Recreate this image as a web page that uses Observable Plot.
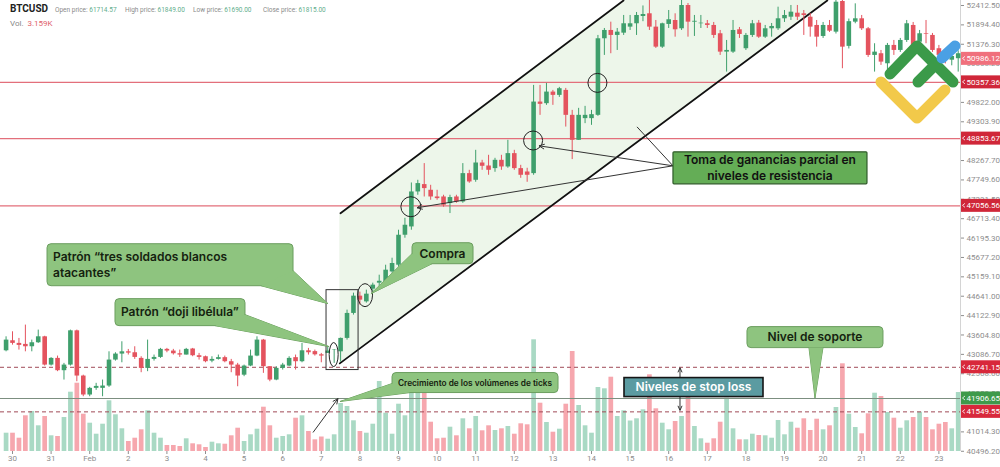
<!DOCTYPE html>
<html><head><meta charset="utf-8">
<script src="https://cdn.jsdelivr.net/npm/d3@7"></script>
<script src="https://cdn.jsdelivr.net/npm/@observablehq/plot@0.6"></script>
<style>
body{margin:0;background:#fff;font-family:Roboto,"Noto Sans",sans-serif;}
#wrap{position:relative;width:1000px;height:467px;overflow:hidden;background:#fff;}
#wrap svg{position:absolute;left:0;top:0;}
.hd{position:absolute;white-space:nowrap;font-family:Roboto,sans-serif;}
.sm{font-size:6.5px;color:#8a8a8a;top:6px;}
.sm b{font-weight:400;color:#5fae8c;}
</style></head><body>
<div id="wrap">
</div>
<script>
// ---------- data ----------
const firstCandle = "2024-01-29T20:00Z";   // 4-hour candles
const opens = [
43182,43450,43380,43353,43290,43397,43556,42800,42979,42650,42800,
43716,42507,42000,42178,42178,42240,42934,43094,43155,43130,
42979,42712,42952,43005,43220,43175,43103,43068,43230,43050,
43023,42906,42952,42999,42890,42800,42530,42774,43041,43468,
42757,42400,42712,42774,42999,42890,43182,43160,43075,43112,
43190,43155,43513,44181,44643,44490,44830,44990,45010,45290,
45470,46271,46493,47428,47625,47473,47294,47294,47118,47294,
47160,47918,47740,48202,48122,48052,48274,48096,48453,48052,
47962,47918,49831,49788,50098,50010,50143,49476,48808,49388,
49388,49476,51523,51745,51612,51673,51834,51924,52119,52191,
51834,51299,51906,52012,51790,52412,51967,51924,51924,51879,
51657,51166,51166,51763,51257,51612,51940,51566,51790,51790,
52057,52100,52207,52190,52100,51879,51585,51879,51700,52520,
51320,51967,52057,51790,51078,51123,50855,51345,51211,51478,
51879,51432,51657,51612,51257,51100,50950,50990];
const highs = [
43556,43690,43513,43869,43468,43735,43570,42999,43041,42846,43735,
43735,42530,42205,42312,42400,43155,43130,43423,43218,43290,
43023,43468,43068,43246,43246,43220,43201,43246,43246,43112,
43041,43023,43068,43041,42952,42846,42800,43201,43556,43486,
42757,42757,42846,43023,43068,43380,43246,43201,43112,43290,
43215,43522,44269,44723,44750,44803,44990,45203,45470,45657,
46405,46725,47668,47740,48186,47606,47473,47340,47340,47340,
48186,48007,48541,48274,48408,48327,48408,48808,48541,48140,
48061,50277,50277,50330,50143,50223,50196,49609,49663,49716,
49609,51612,51798,51967,51798,52146,52146,52226,52400,52546,
52012,51940,52279,52190,52546,52466,52146,52146,52012,51959,
51745,51478,52012,51825,51665,52012,52012,51879,51932,52367,
52279,52413,52413,52279,52199,52012,51959,52012,52546,52546,
52050,52457,52146,51825,51390,51211,51398,51478,51532,52012,
51959,51745,52012,51665,51345,51200,51150,51200];
const lows = [
43155,43334,43201,43155,43155,43380,42774,42774,42624,42400,42774,
42355,41954,41954,42125,41954,42205,42906,42862,43068,42952,
42596,42624,42906,42979,43130,43068,43005,43068,43023,42934,
42862,42862,42934,42862,42596,42221,42490,42757,43023,42579,
42355,42382,42667,42757,42667,42862,43068,43041,42862,43112,
42846,42880,43468,44136,44403,44456,44750,44803,44990,45257,
45417,46191,46405,47340,47294,47206,47206,47020,46851,47126,
47126,47660,47687,48007,47874,47954,48007,48061,48007,47793,
47687,47874,49476,49743,49743,49956,49163,48293,48808,49254,
49209,49449,51078,51123,51211,51612,51745,51612,51980,51745,
51265,51265,51798,51566,51745,51566,51585,51798,51798,51532,
51078,50632,51131,51532,51211,51558,51532,51532,51566,51745,
51959,52012,52012,51612,51566,51299,51532,51692,51650,50722,
51250,51924,51745,51024,50632,50811,50677,51078,51158,51425,
51078,51345,51390,51158,50997,50850,50800,50632];
const closes = [
43468,43380,43326,43290,43397,43556,42800,42979,42650,42800,43716,
42507,42000,42178,42230,42240,42934,43094,43155,43120,43005,
42712,42952,43005,43220,43175,43103,43068,43220,43050,43005,
42890,42952,42999,42890,42800,42507,42774,43041,43468,42757,
42400,42712,42800,42979,42890,43182,43130,43075,43041,43175,
43200,43513,44181,44643,44536,44696,44937,45040,45337,45516,
46271,46538,47428,47652,47518,47294,47250,47072,47278,47160,
47918,47695,48202,48114,48007,48274,48096,48453,48052,47874,
47874,49831,49770,50098,50010,50188,49476,48808,49476,49476,
49494,51523,51745,51612,51700,51924,51924,52146,52172,51834,
51299,51924,52031,51763,52412,51967,51990,51940,51879,51612,
51166,51211,51745,51638,51612,51924,51566,51790,51852,52057,
52146,52234,52100,52146,51834,51566,51879,51726,52500,51299,
51980,52057,51790,51078,51166,50899,51345,51211,51478,51924,
51123,51657,51640,51211,51078,50950,51050,51123];
const volumes = [
915,915,665,1785,2000,1285,1750,785,750,1700,2965,
3415,1865,1415,865,1365,2535,1835,1135,500,665,
1085,2035,915,665,300,300,250,635,385,335,
200,465,385,365,785,1165,500,835,1115,2215,
1285,665,750,835,1665,1785,1000,585,725,615,
835,2400,2250,1535,1000,915,1365,3500,1915,865,
2365,1785,3250,3350,3000,1465,635,665,1215,785,
1635,1135,1750,1035,1285,1050,1135,1250,865,1385,
1335,5585,2415,1450,965,1115,2365,5000,2300,1285,
915,3200,3135,3715,1750,2035,1525,1635,2085,3835,
2135,1415,1085,1500,1750,2750,1250,635,415,635,
1465,2665,1135,585,585,865,800,785,665,1550,
835,1465,1165,1635,1050,1615,1085,1285,2200,4385,
1865,1200,885,1885,2915,2750,1950,1665,1165,1535,
1700,1965,1700,1085,1365,1450,1135,2950];

const xTickDays = ["2024-01-30","2024-01-31","2024-02-01","2024-02-02","2024-02-03","2024-02-04","2024-02-05","2024-02-06","2024-02-07","2024-02-08","2024-02-09","2024-02-10","2024-02-11","2024-02-12","2024-02-13","2024-02-14","2024-02-15","2024-02-16","2024-02-17","2024-02-18","2024-02-19","2024-02-20","2024-02-21","2024-02-22","2024-02-23"];
const xTickLabels = ["30","31","Feb","2","3","4","5","6","7","8","9","10","11","12","13","14","15","16","17","18","19","20","21","22","23"];
// visible price-axis labels (those fully hidden behind the level tags are omitted)
const yTicks = [40496.20,41014.30,42050.50,42568.60,43086.70,43604.80,44122.90,44641.00,45159.10,45677.20,46195.30,46713.40,47231.50,47749.60,48267.70,49303.90,49822.00,50858.20,51376.30,51894.40,52412.50];

const resistance = [50357.36, 48853.67, 47056.56];
const stopLevels = [42741.15, 41549.55];
const supportLevels = [41906.65];
const lastPrice = 50986.12;

const channelUpper = [{t:"2024-02-07T11:56Z", price:46859},{t:"2024-02-14T19:55Z", price:52546}];
const channelLower = [{t:"2024-02-07T11:30Z", price:42846},{t:"2024-02-20T02:38Z", price:52546}];

// ---------- build ----------
const H4 = 4*3600e3;
const t0 = +new Date(firstCandle);
const candles = opens.map((o,i)=>({t:new Date(t0+i*H4), open:o, high:highs[i], low:lows[i], close:closes[i], volume:volumes[i], up:closes[i]>=o}));
const xDomain = [new Date("2024-01-29T16:32Z"), new Date("2024-02-23T13:26Z")];
const yDomain = [40490, 52546];
const tickMap = new Map(xTickDays.map((d,i)=>[+new Date(d+"T00:00Z"), xTickLabels[i]]));
const xTicks = xTickDays.map(d=>new Date(d+"T00:00Z"));

const G="#3f9f6c", R="#e4535e", VG="#a9d9c4", VR="#f6a7ae";

const lin = (line, t) => { const a=+new Date(line[0].t), b=+new Date(line[1].t); return line[0].price + (line[1].price-line[0].price)*(t-a)/(b-a); };
const fa = +new Date(channelLower[0].t), fb = +new Date(channelUpper[1].t), fc = +new Date(channelLower[1].t);
const fillPts = [fa, fb, fc].map(t=>({t:new Date(t), lo:lin(channelLower,t), hi:Math.min(lin(channelUpper,t), yDomain[1])}));

const common = {width:1000, height:467, marginLeft:0, marginRight:40, marginTop:0, marginBottom:16};

const volPlot = Plot.plot({
  ...common,
  style:{background:"none"},
  x:{type:"utc", domain:xDomain, axis:null},
  y:{domain:[0,5000], range:[451,351], axis:null},
  marks:[
    Plot.ruleX(candles, {x:"t", y1:0, y2:"volume", stroke:d=>d.up?VG:VR, strokeWidth:4.7})
  ]
});

const main = Plot.plot({
  ...common,
  style:{background:"none", fontFamily:"Roboto, sans-serif", fontSize:"8px", color:"#8e8e8e", overflow:"visible"},
  x:{type:"utc", domain:xDomain, ticks:xTicks, tickFormat:d=>tickMap.get(+d) ?? "", tickSize:3, tickPadding:1, label:null},
  y:{domain:yDomain, axis:"right", ticks:yTicks, tickFormat:d=>d.toFixed(2), tickSize:3, tickPadding:3, label:null},
  marks:[
    Plot.areaY(fillPts, {x:"t", y1:"lo", y2:"hi", fill:"#edf6ea"}),
    Plot.ruleY(resistance, {stroke:"#e36f7b", strokeWidth:1.3}),
    Plot.ruleY(stopLevels, {stroke:"#a04a57", strokeDasharray:"4,3"}),
    Plot.ruleY(supportLevels, {stroke:"#7c8f80"}),
    Plot.ruleX([xDomain[1]], {stroke:"#d4d4d4"}),
    Plot.line(channelUpper, {x:d=>new Date(d.t), y:"price", stroke:"#111", strokeWidth:1.8}),
    Plot.line(channelLower, {x:d=>new Date(d.t), y:"price", stroke:"#111", strokeWidth:1.8}),
    Plot.ruleX(candles, {x:"t", y1:"low", y2:"high", stroke:d=>d.up?G:R, strokeWidth:1}),
    Plot.ruleX(candles, {x:"t", y1:"open", y2:"close", stroke:d=>d.up?G:R, strokeWidth:4.6})
  ]
});

const wrap = document.getElementById("wrap");
wrap.appendChild(volPlot);
wrap.appendChild(main);

// ---------- annotations (anchored in data coordinates) ----------
const X = main.scale("x"), Y = main.scale("y");
const px = t => X.apply(new Date(t)), py = p => Y.apply(p);
const svg = d3.select(main);
const ann = svg.append("g").attr("text-anchor","start");

// price tags on the right axis
const levelTags = [
  {price:lastPrice, kind:"last"},
  {price:resistance[0], kind:"res"},{price:resistance[1], kind:"res"},{price:resistance[2], kind:"res"},
  {price:stopLevels[0], kind:"stop"},{price:supportLevels[0], kind:"sup"},{price:stopLevels[1], kind:"stop"}
];
const tagFill = {last:"#f0707c", res:"#d02739", stop:"#d8283b", sup:"#3e9a4a"};
for (const tg of levelTags) {
  const y = py(tg.price);
  ann.append("rect").attr("x",961).attr("y",y-6.5).attr("width",39).attr("height",13).attr("fill",tagFill[tg.kind]);
  ann.append("path").attr("d",`M965,${y-2}L962.5,${y}L965,${y+2}`).attr("fill","none").attr("stroke","#fff").attr("stroke-width",0.8);
  ann.append("text").attr("x",966.5).attr("y",y).attr("dy","0.35em").attr("text-anchor","start").attr("fill","#fff")
    .attr("font-size",8).attr("font-family","Roboto, sans-serif").text(tg.price.toFixed(2));
}

// marker circles / ellipses / rectangle
const marks = [
  {t:"2024-02-09T08:00Z", price:47020, rx:10, ry:10},
  {t:"2024-02-12T12:00Z", price:48790, rx:9.5, ry:9.5},
  {t:"2024-02-14T04:00Z", price:50330, rx:9.5, ry:9.5},
  {t:"2024-02-07T08:00Z", price:43068, rx:4.5, ry:12},
  {t:"2024-02-08T03:30Z", price:44656, rx:7.5, ry:11.5}
];
for (const m of marks) ann.append("ellipse").attr("cx",px(m.t)).attr("cy",py(m.price)).attr("rx",m.rx).attr("ry",m.ry).attr("fill","none").attr("stroke","#222").attr("stroke-width",1);
const box3 = {t1:"2024-02-07T03:15Z", t2:"2024-02-07T23:10Z", p1:44803, p2:42667};
ann.append("rect").attr("x",px(box3.t1)).attr("y",py(box3.p1)).attr("width",px(box3.t2)-px(box3.t1)).attr("height",py(box3.p2)-py(box3.p1)).attr("fill","none").attr("stroke","#333").attr("stroke-width",1);

function head(x1,y1,x2,y2,len=6,ang=0.42){const a=Math.atan2(y2-y1,x2-x1);return `M${x2-len*Math.cos(a-ang)},${y2-len*Math.sin(a-ang)}L${x2},${y2}L${x2-len*Math.cos(a+ang)},${y2-len*Math.sin(a+ang)}`;}
function arrow(x1,y1,x2,y2,headed=true){
  ann.append("line").attr("x1",x1).attr("y1",y1).attr("x2",x2).attr("y2",y2).attr("stroke","#333").attr("stroke-width",1);
  if(headed) ann.append("path").attr("d",head(x1,y1,x2,y2)).attr("fill","none").attr("stroke","#333").attr("stroke-width",1);
}

const styles = {
  green:{fill:"#8ec47f", stroke:"#6b9e5f", color:"#15220f", rx:4, sw:1},
  dark:{fill:"#64ad56", stroke:"#2f5b29", color:"#111", rx:1, sw:1.2},
  teal:{fill:"#5b9ba1", stroke:"#151515", color:"#fff", rx:0, sw:1.6}
};
const callouts = [
  {t:"2024-01-30T21:46Z", price:46031, w:246, h:42, lines:["Patrón “tres soldados blancos","atacantes”"], st:"green", fs:12, align:"left",
   tip:{t:"2024-02-07T04:29Z", price:44429}, base:[[214,42],[246,27]]},
  {t:"2024-02-01T16:02Z", price:44563, w:130, h:27, lines:["Patrón “doji libélula”"], st:"green", fs:12, align:"left",
   tip:{t:"2024-02-07T05:05Z", price:43281}, base:[[100,27],[130,16]]},
  {t:"2024-02-09T08:43Z", price:46058, w:61, h:21, lines:["Compra"], st:"green", fs:12,
   tip:{t:"2024-02-08T07:13Z", price:44696}, base:[[0,11],[20,21]]},
  {t:"2024-02-16T02:58Z", price:48488, w:194, h:32, lines:["Toma de ganancias parcial en","niveles de resistencia"], st:"dark", fs:12},
  {t:"2024-02-08T20:17Z", price:42587, w:166, h:20, lines:["Crecimiento de los volúmenes de ticks"], st:"green", fs:8.3,
   tip:{t:"2024-02-07T11:56Z", price:41813}, base:[[0,11],[18,20]]},
  {t:"2024-02-14T20:31Z", price:42453, w:139, h:19, lines:["Niveles de stop loss"], st:"teal", fs:12},
  {t:"2024-02-18T00:59Z", price:43815, w:136, h:21, lines:["Nivel de soporte"], st:"green", fs:12,
   tip:{t:"2024-02-19T19:16Z", price:supportLevels[0]}, base:[[62,21],[76,21]]}
];

const toma = callouts[3];
const tx0 = px(toma.t), ty0 = py(toma.price)+14;
arrow(tx0, ty0, px("2024-02-12T15:40Z"), py(48648));
arrow(tx0, ty0, px("2024-02-09T11:49Z"), py(46992));
arrow(tx0, ty0, px("2024-02-15T04:36Z"), py(49155), false);
arrow(px("2024-02-06T19:09Z"), py(40985), px("2024-02-07T10:42Z"), py(41893));
{
  const ax = px("2024-02-16T07:20Z"), ya = py(stopLevels[0])+1, yb = py(stopLevels[1])-1;
  ann.append("line").attr("x1",ax).attr("x2",ax).attr("y1",ya).attr("y2",yb).attr("stroke","#333");
  ann.append("path").attr("d",head(ax,yb,ax,ya,5)+head(ax,ya,ax,yb,5)).attr("fill","none").attr("stroke","#333");
}

for (const c of callouts) {
  const s = styles[c.st];
  const x0 = px(c.t), y0 = py(c.price);
  const g = ann.append("g");
  let tail = null;
  if (c.tip) {
    tail = `M${x0+c.base[0][0]},${y0+c.base[0][1]}L${px(c.tip.t)},${py(c.tip.price)}L${x0+c.base[1][0]},${y0+c.base[1][1]}Z`;
    g.append("path").attr("d",tail).attr("fill",s.fill).attr("stroke",s.stroke).attr("stroke-width",s.sw);
  }
  g.append("rect").attr("x",x0).attr("y",y0).attr("width",c.w).attr("height",c.h).attr("rx",s.rx)
    .attr("fill",s.fill).attr("stroke",s.stroke).attr("stroke-width",s.sw);
  if (tail) g.append("path").attr("d",tail).attr("fill",s.fill);
  const n = c.lines.length, lh = c.fs*1.3;
  c.lines.forEach((ln,i)=>{
    const ty = y0 + c.h/2 + (i-(n-1)/2)*lh;
    g.append("text").attr("x", c.align==="left" ? x0+6 : x0+c.w/2).attr("y",ty).attr("dy","0.36em")
      .attr("text-anchor", c.align==="left" ? "start" : "middle")
      .attr("font-family","Inter, Roboto, sans-serif").attr("font-weight",600).attr("font-size",c.fs)
      .attr("fill",s.color).text(ln);
  });
}

// brand logo (decorative)
const logo = svg.append("g").attr("fill","none").attr("stroke-linecap","round").attr("stroke-linejoin","round").attr("stroke-width",11);
logo.append("path").attr("d","M881,82L917,118L945,90").attr("stroke","#f2c94a");
logo.append("path").attr("d","M890,74L917,46L953,82").attr("stroke","#3b9a49");
logo.append("path").attr("d","M918,82L936,64").attr("stroke","#3b9a49");
logo.append("path").attr("d","M942,58L955,46").attr("stroke","#4aa0e4");

// header
const hdr = document.createElement("div");
hdr.innerHTML = `
<div class="hd" style="left:10px;top:3px;font-size:10px;font-weight:700;color:#222">BTCUSD</div>
<div class="hd sm" style="left:55px">Open price: <b>61714.57</b></div>
<div class="hd sm" style="left:125px">High price: <b>61849.00</b></div>
<div class="hd sm" style="left:193px">Low price: <b>61690.00</b></div>
<div class="hd sm" style="left:263px">Close price: <b>61815.00</b></div>
<div class="hd" style="left:10px;top:19px;font-size:8px;color:#888">Vol.&nbsp; <span style="color:#e0626c">3.159K</span></div>`;
wrap.appendChild(hdr);
</script>
</body></html>
